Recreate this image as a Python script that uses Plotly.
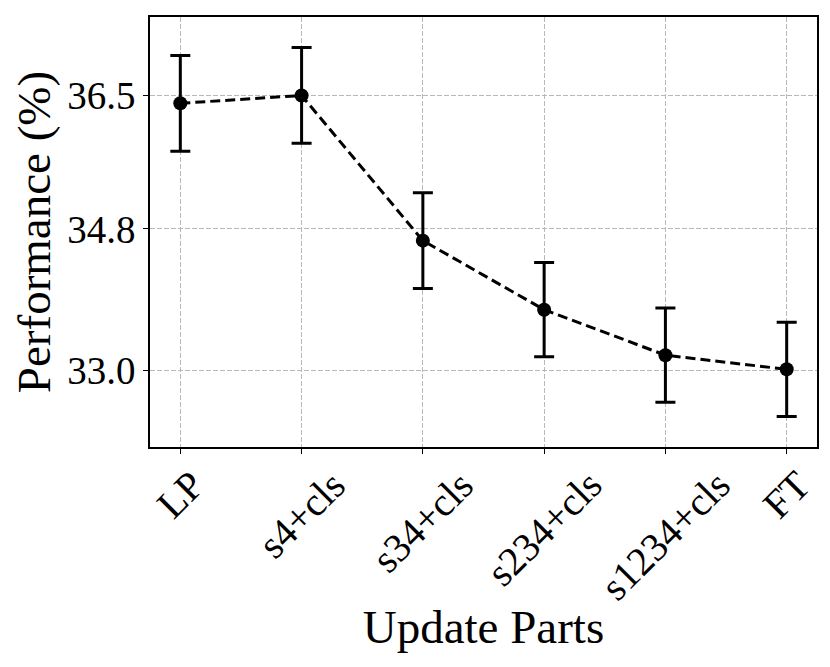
import plotly.graph_objects as go

# values
parts = ["LP", "s4+cls", "s34+cls", "s234+cls", "s1234+cls", "FT"]
perf = [36.40, 36.50, 34.65, 33.77, 33.19, 33.01]
perf_err = [0.61, 0.61, 0.61, 0.60, 0.60, 0.60]
y_ticks = [33.0, 34.8, 36.5]
y_tick_text = ["33.0", "34.8", "36.5"]

FONT = "Liberation Serif, Times New Roman, serif"
x_pos = list(range(len(parts)))

fig = go.Figure()
fig.add_trace(go.Scatter(
    x=x_pos, y=perf,
    mode="lines+markers",
    line=dict(color="black", width=3, dash="10px,5px"),
    marker=dict(color="black", size=14),
    error_y=dict(type="data", array=perf_err, visible=True,
                 color="black", thickness=3, width=10),
    showlegend=False,
))

axis_common = dict(
    showline=True, linecolor="black", linewidth=1.5, mirror=True,
    ticks="outside", ticklen=5, tickwidth=1.2, tickcolor="black",
    showgrid=True, gridcolor="#b8b8b8", gridwidth=1, griddash="5px,2px",
    zeroline=False,
    tickfont=dict(family=FONT, size=39, color="black"),
)

# x tick labels drawn as rotated annotations so each one is centred under its tick
fig.update_xaxes(
    **axis_common,
    range=[-0.25, 5.25],
    tickvals=x_pos, showticklabels=False,
    title=dict(text="Update Parts", font=dict(family=FONT, size=47, color="black"), standoff=157),
)
for xp, lab in zip(x_pos, parts):
    fig.add_annotation(
        x=xp, y=0, xref="x", yref="paper",
        text=lab, textangle=-45, showarrow=False,
        xanchor="center", yanchor="top", yshift=-12,
        font=dict(family=FONT, size=40, color="black"),
    )

fig.update_yaxes(
    **axis_common,
    range=[32.02, 37.5],
    tickvals=y_ticks, ticktext=y_tick_text,
    title=dict(text="Performance (%)", font=dict(family=FONT, size=47, color="black"), standoff=16),
)

# page is shown with a small body offset, so the figure is a little smaller than the window
fig.update_layout(
    width=823, height=660,
    margin=dict(l=142, r=14, t=7, b=221),
    plot_bgcolor="white", paper_bgcolor="white",
    font=dict(family=FONT, color="black"),
)

fig.write_html("out.html")
